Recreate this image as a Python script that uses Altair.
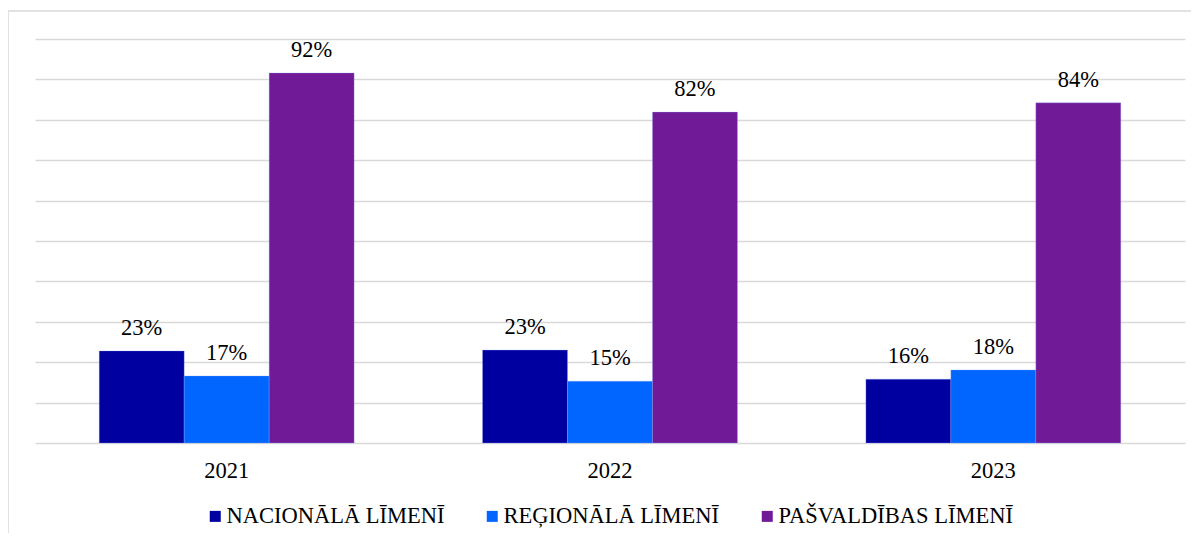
import altair as alt
import pandas as pd

years = ["2021", "2022", "2023"]
series = ["NACIONĀLĀ LĪMENĪ", "REĢIONĀLĀ LĪMENĪ", "PAŠVALDĪBAS LĪMENĪ"]
nacionala = [22.8, 23.0, 15.8]
regionala = [16.6, 15.3, 18.1]
pasvaldibas = [91.6, 81.9, 84.2]
colors = ["#0000A0", "#0066FF", "#701A98"]

rows = []
for i, y in enumerate(years):
    for s, vals in zip(series, [nacionala, regionala, pasvaldibas]):
        rows.append({"year": y, "series": s, "value": vals[i]})
df = pd.DataFrame(rows)
df["label"] = df["value"].round(0).astype(int).astype(str) + "%"

FONT = "Liberation Serif"
FS = 22.5

x_enc = alt.X("year:N", sort=years, title=None,
              scale=alt.Scale(paddingInner=0.335, paddingOuter=0.1675),
              axis=alt.Axis(labelFont=FONT, labelFontSize=FS, labelColor="#000000",
                            labelAngle=0, ticks=False, tickSize=0, domain=False,
                            labelBaseline="alphabetic", labelPadding=34, grid=False))
y_enc = alt.Y("value:Q", title=None,
              scale=alt.Scale(domain=[0, 100], nice=False),
              axis=alt.Axis(values=list(range(0, 101, 10)), labels=False, ticks=False,
                            domain=False, grid=True, gridColor="#d9d9d9", gridWidth=1.4))
xoff = alt.XOffset("series:N", sort=series, scale=alt.Scale(domain=series, paddingInner=0, paddingOuter=0))

base = alt.Chart(df)

bars = base.mark_bar(stroke="#8fa8ff", strokeWidth=0.6, strokeOpacity=0.5).encode(
    x=x_enc,
    y=y_enc,
    xOffset=xoff,
    color=alt.Color("series:N", sort=series,
                    scale=alt.Scale(domain=series, range=colors),
                    legend=alt.Legend(title=None, orient="none", direction="horizontal",
                                      legendX=169, legendY=466, padding=0,
                                      symbolType="square", symbolSize=121,
                                      symbolStrokeWidth=0, labelFont=FONT,
                                      labelFontSize=FS, labelColor="#000000",
                                      labelOffset=0, columnPadding=36,
                                      labelLimit=400)),
)

labels = base.mark_text(font=FONT, fontSize=FS, color="#000000",
                        baseline="alphabetic", dy=-16).encode(
    x=alt.X("year:N", sort=years),
    y=alt.Y("value:Q"),
    xOffset=xoff,
    text="label:N",
)

frame = alt.Chart(pd.DataFrame({"a": [0]})).mark_rect(
    fill=None, stroke="#d9d9d9", strokeWidth=1.5
).encode(
    x=alt.value(-27), x2=alt.value(1170), y=alt.value(-28), y2=alt.value(600)
)

chart = alt.layer(frame, bars, labels).properties(
    width=1150, height=404,
    autosize=alt.AutoSizeParams(type="none"),
    padding={"left": 27, "top": 31, "right": 6, "bottom": 90},
    background="#ffffff",
).configure_view(stroke=None)

chart.save("out.html", embed_options={"renderer": "svg", "actions": False})
